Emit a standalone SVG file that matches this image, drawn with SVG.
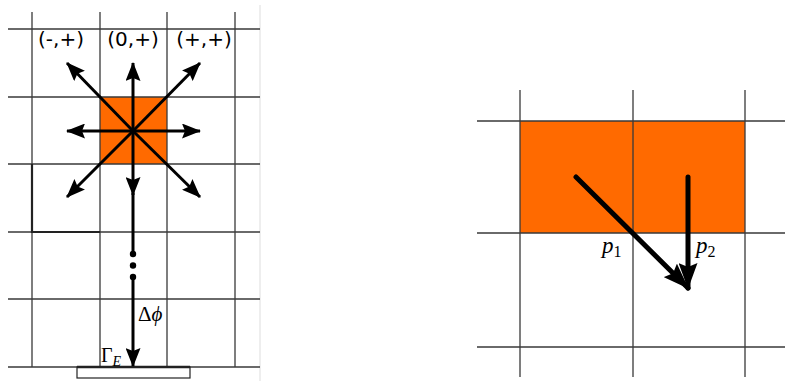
<svg xmlns="http://www.w3.org/2000/svg" width="785" height="381" viewBox="0 0 785 381">
<style>
.grid{stroke:#3a3a3a;stroke-width:1.3;fill:none}
.arr{stroke:#000;stroke-width:3;fill:none}
.arr2{stroke:#000;stroke-width:5;fill:none;stroke-linecap:round}
.lbl{font-family:"DejaVu Sans",sans-serif;font-size:20px;fill:#000}
.math{font-family:"Liberation Serif",serif;fill:#000}
.orange{fill:#ff6a00}
</style>
<defs>
<marker id="ah" markerUnits="userSpaceOnUse" markerWidth="19" markerHeight="15" viewBox="0 0 19 15" refX="18" refY="7.5" orient="auto">
<path d="M0,0 L19,7.5 L0,15 L3,7.5 Z" fill="#000"/>
</marker>
<marker id="ah2" markerUnits="userSpaceOnUse" markerWidth="26" markerHeight="19" viewBox="0 0 26 19" refX="25" refY="9.5" orient="auto">
<path d="M0,0 L26,9.5 L0,19 L4,9.5 Z" fill="#000"/>
</marker>
</defs>
<rect width="785" height="381" fill="#fff"/>
<line x1="260" y1="5" x2="260" y2="381" stroke="#ddd" stroke-width="1"/>
<g id="left-grid">
<rect class="orange" x="100" y="97" width="67" height="67"/>
<path class="grid" d="M32,12V367M100,12V367M167,12V367M235,12V367M8,29H260M8,97H260M8,164H260M8,232H260M8,299H260M8,367H260"/>
<path d="M32,164V232H100" stroke="#222" stroke-width="2.2" fill="none"/>
<rect x="77" y="367" width="113" height="11" fill="#fff" stroke="#222" stroke-width="1.2"/>
<line x1="77" y1="367" x2="190" y2="367" stroke="#222" stroke-width="2.5"/>
</g>
<g id="right-grid">
<rect class="orange" x="520" y="121" width="225" height="112"/>
<path class="grid" d="M520,90V377M633,90V377M745,90V377M477,121H785M477,233H785M477,347H785"/>
</g>
<g id="labels-left">
<text class="lbl" x="61" y="46" text-anchor="middle">(-,+)</text>
<text class="lbl" x="133" y="46" text-anchor="middle">(0,+)</text>
<text class="lbl" x="204" y="46" text-anchor="middle">(+,+)</text>
<text class="math" x="138" y="321" font-size="21">Δ<tspan font-style="italic">ϕ</tspan></text>
<text class="math" x="101" y="362" font-size="20">Γ<tspan font-style="italic" font-size="14" dy="4">E</tspan></text>
</g>
<g id="connectors">
<line class="arr" x1="133" y1="131" x2="133" y2="63" marker-end="url(#ah)"/>
<line class="arr" x1="133" y1="131" x2="67" y2="131" marker-end="url(#ah)"/>
<line class="arr" x1="133" y1="131" x2="200" y2="131" marker-end="url(#ah)"/>
<line class="arr" x1="133" y1="131" x2="67" y2="63" marker-end="url(#ah)"/>
<line class="arr" x1="133" y1="131" x2="200" y2="63" marker-end="url(#ah)"/>
<line class="arr" x1="133" y1="131" x2="67" y2="197" marker-end="url(#ah)"/>
<line class="arr" x1="133" y1="131" x2="200" y2="197" marker-end="url(#ah)"/>
<line class="arr" x1="133" y1="131" x2="133" y2="195" marker-end="url(#ah)"/>
<line class="arr" x1="133" y1="193" x2="133" y2="254"/>
<circle cx="133" cy="254" r="3.2"/>
<circle cx="133" cy="265.5" r="3.2"/>
<circle cx="133" cy="277" r="3.2"/>
<line class="arr" x1="133" y1="277" x2="133" y2="366" marker-end="url(#ah)"/>
<line class="arr2" x1="576" y1="177" x2="688" y2="288" marker-end="url(#ah2)"/>
<line class="arr2" x1="688" y1="177" x2="688" y2="288" marker-end="url(#ah2)"/>
</g>
<g id="labels-right">
<text class="math" x="602" y="253" font-size="23" font-style="italic">p<tspan font-style="normal" font-size="16" dy="4">1</tspan></text>
<text class="math" x="696" y="253" font-size="23" font-style="italic">p<tspan font-style="normal" font-size="16" dy="4">2</tspan></text>
</g>
</svg>
